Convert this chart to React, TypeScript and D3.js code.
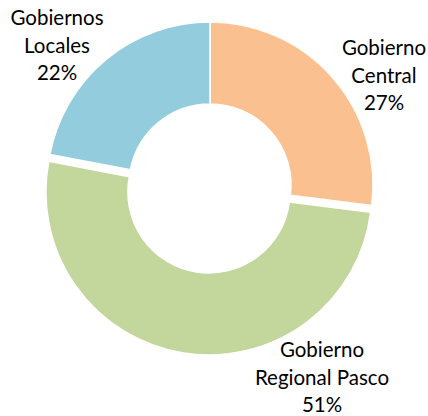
import * as d3 from "d3";

const W = 428;
const H = 416;
const CATEGORIES: string[][] = [
  ["Gobierno", "Central"],
  ["Gobierno", "Regional Pasco"],
  ["Gobiernos", "Locales"],
];
const VALUES: number[] = [27, 51, 22];
const COLORS: string[] = ["#FAC090", "#C3D69B", "#93CDDD"];
const EXPLODE: number[] = [0, 7, 0];
// label anchors relative to chart centre
const LABEL_POS: [number, number][] = [
  [174, -130],
  [112, 172],
  [-153, -160],
];

const cx = 210;
const cy = 185;
const R = 163;
const r = 81;

const App = () => {
  const total = d3.sum(VALUES);
  const pie = d3
    .pie<number>()
    .sort(null)
    .value((d) => d);
  const arcs = pie(VALUES);
  const arc = d3
    .arc<d3.PieArcDatum<number>>()
    .innerRadius(r)
    .outerRadius(R);

  return (
    <svg
      width={W}
      height={H}
      style={{ position: "absolute", left: 0, top: 0, background: "#fff" }}
    >
      <g transform={`translate(${cx}, ${cy})`}>
        {arcs.map((a, i) => {
          const mid = (a.startAngle + a.endAngle) / 2;
          const dx = Math.sin(mid) * EXPLODE[i];
          const dy = -Math.cos(mid) * EXPLODE[i];
          return (
            <path
              key={i}
              d={arc(a) || ""}
              transform={`translate(${dx}, ${dy})`}
              fill={COLORS[i]}
              stroke="#fff"
              strokeWidth={1.5}
            />
          );
        })}
        {arcs.map((a, i) => {
          const lines = [
            ...CATEGORIES[i],
            `${Math.round((VALUES[i] / total) * 100)}%`,
          ];
          const [lx, ly] = LABEL_POS[i];
          return (
            <text
              key={"l" + i}
              x={lx}
              y={ly}
              textAnchor="middle"
              fontFamily="Lato, 'Open Sans', sans-serif"
              fontSize={20.5}
              fill="#000"
            >
              {lines.map((t, j) => (
                <tspan key={j} x={lx} dy={j === 0 ? 0 : 27.5}>
                  {t}
                </tspan>
              ))}
            </text>
          );
        })}
      </g>
    </svg>
  );
};

export default App;
